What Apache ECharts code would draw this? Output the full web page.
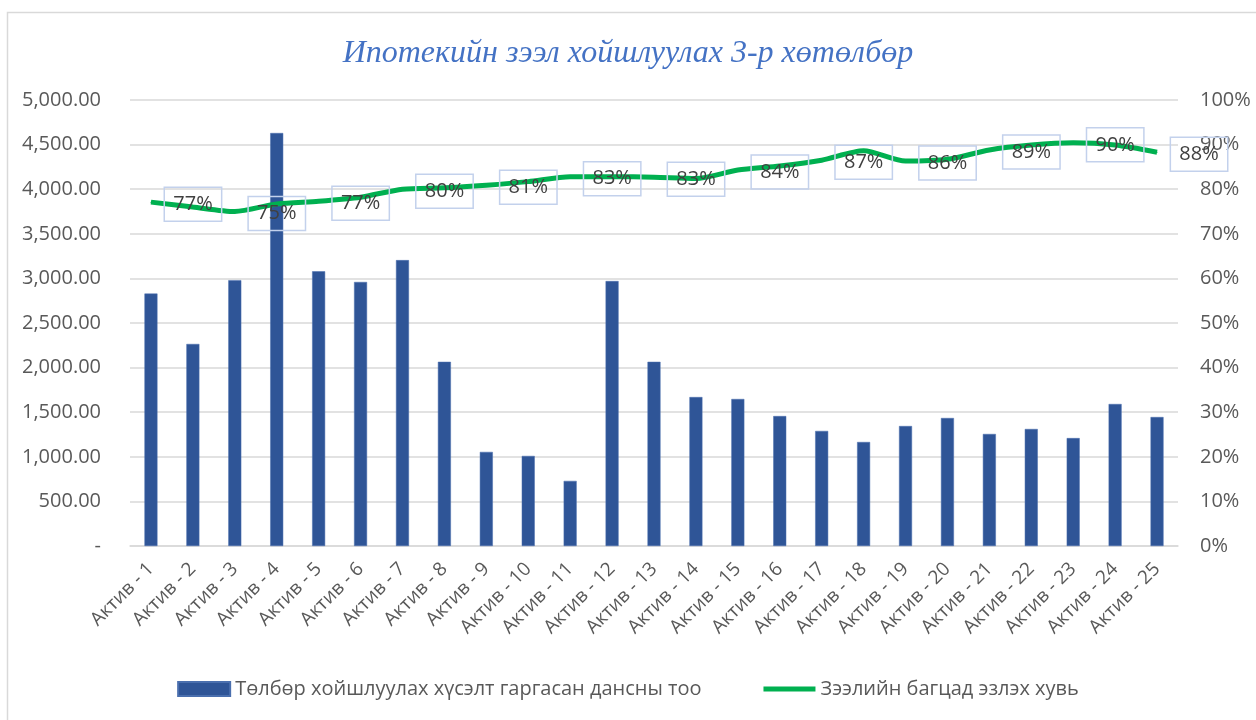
<!DOCTYPE html>
<html>
<head>
<meta charset="utf-8">
<script src="https://cdn.jsdelivr.net/npm/echarts@6/dist/echarts.min.js"></script>
<style>
  html, body { margin: 0; padding: 0; background: #fff; }
  #chart { width: 1256px; height: 720px; }
</style>
</head>
<body>
<div id="chart"></div>
<script>
  let categories = []
  for (let i = 1; i <= 25; i++) categories.push('Актив - ' + i)
  let requests = [2830, 2265, 2980, 4630, 3080, 2960, 3205, 2065, 1055, 1010, 730, 2970, 2065,
    1670, 1648, 1457, 1290, 1166, 1345, 1435, 1256, 1312, 1210, 1592, 1446]
  let shares = [77.1, 76.0, 75.0, 76.7, 77.3, 78.2, 80.0, 80.3, 80.9, 81.7, 82.8, 82.8, 82.7,
    82.4, 84.3, 85.2, 86.5, 88.6, 86.3, 86.7, 88.8, 89.9, 90.4, 89.9, 88.3]
  let leftTicks = [0, 5000, 500]
  let rightTicks = [0, 100, 10]
  let legend = ['Төлбөр хойшлуулах хүсэлт гаргасан дансны тоо', 'Зээлийн багцад эзлэх хувь']

  let myChart = echarts.init(document.getElementById('chart'))
  let fmtNum = v => v === 0 ? '-' : v.toLocaleString('en-US', {minimumFractionDigits: 2, maximumFractionDigits: 2})

  // only every other point has a label, nudged one category to the right
  let lineData = shares.map((v, i) => ({
    value: v,
    label: {show: i % 2 === 0}
  }))

  let option = {
    animation: false,
    textStyle: {fontFamily: 'Open Sans, DejaVu Sans, sans-serif'},
    graphic: [{
      type: 'rect',
      shape: {x: 7.5, y: 12.5, width: 1270, height: 730},
      style: {fill: 'none', stroke: '#d9d9d9', lineWidth: 1.5},
      silent: true
    }],
    title: {
      text: 'Ипотекийн зээл хойшлуулах 3-р хөтөлбөр',
      left: 'center',
      top: 33,
      textStyle: {
        fontFamily: 'Liberation Serif, serif',
        fontStyle: 'italic',
        fontWeight: 'normal',
        fontSize: 32,
        color: '#4472c4'
      }
    },
    legend: {
      data: [
        {name: legend[0], icon: 'rect'},
        {name: legend[1], icon: 'path://M0,0 L52,0 L52,5 L0,5 Z', itemStyle: {color: '#00b050'}}
      ],
      bottom: 16,
      left: 'center',
      itemGap: 62,
      itemWidth: 52,
      itemHeight: 14,
      textStyle: {color: '#595959', fontSize: 20}
    },
    grid: {left: 130, right: 78, top: 100, bottom: 174, containLabel: false},
    xAxis: {
      type: 'category',
      data: categories,
      axisLine: {lineStyle: {color: '#d9d9d9', width: 1.5}},
      axisTick: {show: false},
      axisLabel: {rotate: 45, color: '#595959', fontSize: 19, margin: 20, interval: 0}
    },
    yAxis: [
      {
        type: 'value',
        min: leftTicks[0],
        max: leftTicks[1],
        interval: leftTicks[2],
        axisLine: {show: false},
        axisTick: {show: false},
        splitLine: {lineStyle: {color: '#d9d9d9', width: 1.5}},
        axisLabel: {color: '#595959', fontSize: 20, margin: 29, formatter: fmtNum}
      },
      {
        type: 'value',
        min: rightTicks[0],
        max: rightTicks[1],
        interval: rightTicks[2],
        axisLine: {show: false},
        axisTick: {show: false},
        splitLine: {show: false},
        axisLabel: {color: '#595959', fontSize: 20, margin: 22, formatter: '{value}%'}
      }
    ],
    series: [
      {
        name: legend[0],
        type: 'bar',
        data: requests,
        barWidth: 13,
        itemStyle: {color: '#2f5597', borderColor: '#4a6fae', borderWidth: 0.5}
      },
      {
        name: legend[1],
        type: 'line',
        yAxisIndex: 1,
        data: lineData,
        smooth: 0.25,
        showSymbol: true,
        symbol: 'circle',
        symbolSize: 1,
        lineStyle: {color: '#00b050', width: 5},
        itemStyle: {color: '#00b050'},
        z: 3,
        label: {
          position: 'inside',
          offset: [42, 2],
          formatter: p => Math.round(p.value) + '%',
          color: '#404040',
          fontSize: 20,
          borderColor: '#c3d1ec',
          borderWidth: 1.5,
          padding: [8, 9, 6, 9]
        }
      }
    ]
  }
  myChart.setOption(option)
</script>
</body>
</html>
